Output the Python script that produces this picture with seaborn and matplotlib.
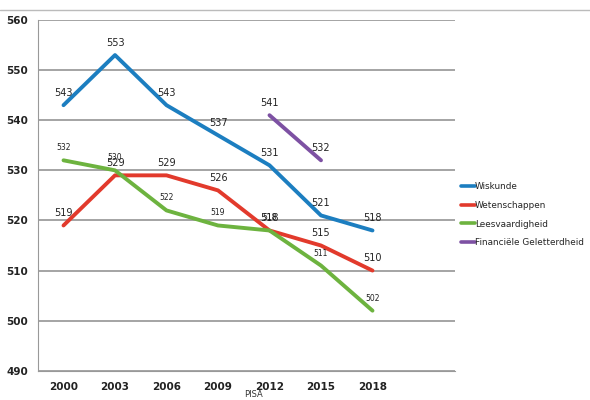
import matplotlib
matplotlib.use('Agg')
import matplotlib.pyplot as plt
import seaborn as sns
import pandas as pd
import numpy as np
from matplotlib.lines import Line2D

# PISA scores per domain
years = ['2000', '2003', '2006', '2009', '2012', '2015', '2018']
wiskunde = [543, 553, 543, 537, 531, 521, 518]
wetenschappen = [519, 529, 529, 526, 518, 515, 510]
leesvaardigheid = [532, 530, 522, 519, 518, 511, 502]
financieel = [np.nan, np.nan, np.nan, np.nan, 541, 532, np.nan]

series = ['Wiskunde', 'Wetenschappen', 'Leesvaardigheid', 'Financiële Geletterdheid']
colors = ['#1c7ec0', '#e23a2c', '#6db33f', '#7d51a3']
values = [wiskunde, wetenschappen, leesvaardigheid, financieel]

rows = []
for name, vals in zip(series, values):
    for i, v in enumerate(vals):
        rows.append({'pos': i, 'jaar': years[i], 'score': v, 'domein': name})
df = pd.DataFrame(rows)

sns.set_style('white')
fig = plt.figure(figsize=(5.9, 4), dpi=100)
ax = fig.add_axes([0.064, 0.073, 0.707, 0.877])

sns.lineplot(data=df, x='pos', y='score', hue='domein', palette=colors,
             hue_order=series, linewidth=2.8, ax=ax, legend=False)

# data labels
for name, vals, c in zip(series, values, colors):
    small = name == 'Leesvaardigheid'
    for i, v in enumerate(vals):
        if np.isnan(v):
            continue
        ax.annotate(f'{int(v)}', (i, v), xytext=(0, 9), textcoords='offset points',
                    ha='center', va='center', fontsize=5.5 if small else 7,
                    color='#222222')

ax.set_ylim(490, 560)
ax.set_yticks(range(490, 561, 10))
ax.set_xlim(-0.5, 7.6)
ax.set_xticks(range(len(years)))
ax.set_xticklabels(years)
ax.set_xticks(np.arange(-0.5, 7.5, 1), minor=True)
ax.tick_params(axis='x', which='major', length=0, labelsize=7.5, pad=8)
ax.tick_params(axis='x', which='minor', length=4, color='#888888', direction='out')
ax.tick_params(axis='y', length=3, color='#888888', labelsize=7.5, pad=4)
for lab in ax.get_xticklabels() + ax.get_yticklabels():
    lab.set_fontweight('bold')
    lab.set_color('#222222')
ax.grid(axis='y', color='#8c8c8c', linewidth=1.1)
ax.set_axisbelow(True)
for s in ['top', 'right']:
    ax.spines[s].set_visible(False)
ax.spines['left'].set_color('#999999')
ax.spines['bottom'].set_color('#999999')
ax.set_xlabel('')
ax.set_ylabel('')

handles = [Line2D([0], [0], color=c, lw=2.6) for c in colors]
fig.legend(handles, series, loc='upper left', bbox_to_anchor=(0.782, 0.545),
           frameon=False, fontsize=6.4, handlelength=1.5, handletextpad=0.05,
           labelspacing=1.1, borderaxespad=0, borderpad=0)

fig.add_artist(Line2D([0, 1], [0.975, 0.975], color='#bbbbbb', lw=1))
fig.text(0.43, 0.002, 'PISA', ha='center', va='bottom', fontsize=6, color='#333333')

fig.savefig('out.png', dpi=100)
